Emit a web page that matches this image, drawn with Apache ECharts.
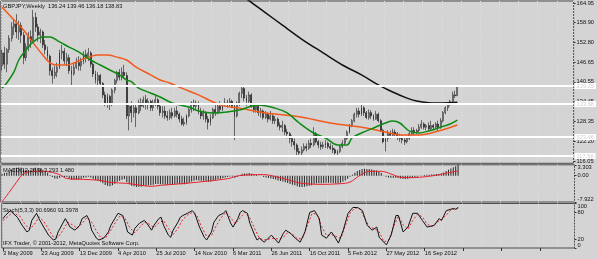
<!DOCTYPE html>
<html><head><meta charset="utf-8">
<script src="https://cdn.jsdelivr.net/npm/echarts@6/dist/echarts.min.js"></script>
<style>html,body{margin:0;padding:0;background:#d4d4d4;}#c{width:597px;height:259px;}</style>
</head><body><div id="c"></div>
<script>
// ---- data ----
const xTickLabels = ['3 May 2009','23 Aug 2009','13 Dec 2009','4 Apr 2010','25 Jul 2010','14 Nov 2010','6 Mar 2011','26 Jun 2011','16 Oct 2011','5 Feb 2012','27 May 2012','16 Sep 2012'];
const weekSlots = 239; // weeks shown on the axis incl. empty right margin
const priceTicks = [116.05,122.20,128.35,134.45,140.55,146.65,152.80,158.90,164.95];
const macdTicks = [-7.922, 0, 3.303];
const macdTickLabels = ['-7.922','0.00','3.303'];
const stochTicks = [0,20,80,100];
const levelLines = [139.25,133.68,123.46,117.58];
const lastPrice = 138.83;
// weekly candles [open, close, low, high]
const ohlc = [
[145.5,149.5,144,150.5],[149.5,146,144.5,151.5],[146,150.5,143.5,151],[150.5,154,149.5,155],[154,157.5,153,159],
[157.5,158.5,155,160],[158.5,156,154,161.5],[156,158,153.5,159.5],[158,155,152.5,159],[155,148,146,156],
[148,151.5,147,152.5],[151.5,154.5,150,156],[154.5,153,151,156.5],[153,160.5,152.5,162.8],[160.5,157.5,156,162],
[157.5,155,153,158.5],[155,156,152.5,157],[156,152,151,156.5],[152,150.5,149,153.5],[150.5,148.5,147.5,151.5],
[148.5,144,142.5,149],[144,142.5,140,145],[142.5,143.5,141.5,145.5],[143.5,145,142,146.5],[145,149.5,144.5,150.5],
[149.5,150,147.5,152],[150,147,146,151],[147,148,145.5,149.5],[148,144,143,149],[144,143,139,145.5],
[143,145,142.5,146.5],[145,146.5,144.5,148],[146.5,145.5,144,148.5],[145.5,147,144,148],[147,149,146,150],
[149,148,146.5,150.5],[148,149.5,147,151],[149.5,146,145,150],[146,143,142,146.5],[143,141,140,144],
[141,142.5,139.5,143.5],[142.5,140,139,143],[140,136.5,135.5,140.5],[136.5,134,133,137.5],[134,136,132.5,137],
[136,133.5,131.8,136.5],[133.5,138,133,138.5],[138,141,137,141.5],[141,143.5,140,144],[143.5,142,141,144.5],
[142,143.5,141,145],[143.5,142.5,141.5,145.8],[142.5,130,129,143.5],[130,133,125.5,134],[133,131,128,134.5],
[131,132.5,129.5,134],[132.5,131,126.5,133.5],[131,134,130.5,135],[134,133,131.5,135.5],[133,135,132.5,136],
[135,133.5,132,136.5],[133.5,134.5,132,135.5],[134.5,132.5,131.5,135],[132.5,134,131.5,135],[134,135,133,136.5],
[135,133,132,135.5],[133,131,130,134],[131,131.5,129.5,133],[131.5,130,129,133],[130,129.5,128.5,131.5],
[129.5,131,128.8,132],[131,130,129,132.5],[130,131.5,129.5,132.5],[131.5,130.5,129.5,133],[130.5,129,128,131],
[129,127.5,127,130],[127.5,128,126.8,129.5],[128,130,127.3,130.5],[130,132,129.5,132.5],[132,134,131,134.5],
[134,133,131.5,135],[133,134,132,134.8],[134,131.5,130.5,134.5],[131.5,130,129,132.5],[130,131,128.8,132],
[131,129,128,131.5],[129,128,125.8,130],[128,129.5,127,130.5],[129.5,132,129,132.5],[132,131,130,133.5],
[131,133,130.5,134],[133,132,131,134.5],[132,133.5,131.5,134],[133.5,134,133,135.5],[134,133.5,132.5,135],
[133.5,134.5,133,135.5],[134.5,133,132.5,135],[133,130,122.5,133.5],[130,134,129.5,134.5],[134,137,133,137.5],
[137,138.5,135.5,139.6],[138.5,135.5,134.5,139],[135.5,134.5,133,136.5],[134.5,136.5,133.5,137.5],[136.5,133,132.5,137],
[133,132,131,134],[132,133,131,134],[133,131,130,133.5],[131,131.5,129.5,132.5],[131.5,129.5,128.8,132],
[129.5,130.5,129,131.5],[130.5,129,128,131],[129,130,128.5,131.5],[130,128.5,127.5,130.5],[128.5,129,127.5,130],
[129,127,126.5,129.5],[127,126.5,125.5,128],[126.5,127,125,128.5],[127,125,124,127.5],[125,124.5,123,126],
[124.5,123,121.5,125],[123,122,120.5,124],[122,121,119.5,123],[121,119,117.3,121.5],[119,118.5,117.5,120],
[118.5,119.5,117.8,120.5],[119.5,120.5,119,121.5],[120.5,120,119,121.5],[120,121.5,119.5,122.5],[121.5,121,120,123],
[121,124.5,120.5,126.5],[124.5,122,121.5,125],[122,121,120,122.5],[121,120.5,119.5,122],[120.5,121,119.8,122],
[121,121.5,120,122.5],[121.5,120.5,119.8,122],[120.5,120,119.5,121.5],[120,119.5,118.5,121],[119.5,118.5,118,120],
[118.5,119,117.3,119.5],[119,120.5,118.5,121],[120.5,121.5,120,122.5],[121.5,123,121,123.5],[123,125,122.5,125.5],
[125,127,124.5,127.5],[127,128.5,126.5,129],[128.5,130.5,128,131],[130.5,131.5,129.5,132.5],[131.5,130.5,129.5,132.5],
[130.5,132.5,130,133.4],[132.5,131,130,133],[131,129.5,129,131.5],[129.5,131,128.8,132],[131,130,129,131.8],
[130,129,128.5,130.5],[129,130.5,128.8,131.5],[130.5,128.5,128,131],[128.5,125.5,125,129],[125.5,122,121.5,126],
[122,123,119,123.5],[123,124.5,122,125.5],[124.5,124,123,125.5],[124,125,123.5,126],[125,124.5,123.5,125.8],
[124.5,123.5,122.5,125],[123.5,123,122,124.5],[123,122.5,121.5,124],[122.5,122,121,123.5],[122,123,121.5,123.5],
[123,124.5,122.5,125],[124.5,125.5,124,126.5],[125.5,125,124,126.5],[125,125.5,124.5,126],[125.5,126.5,125,127.5],
[126.5,127.5,126,128.7],[127.5,126.5,125.8,128],[126.5,127,125.5,127.5],[127,126,125.5,128],[126,127,125.5,128.5],
[127,126.5,125.5,127.5],[126.5,127.5,126,128],[127.5,126.5,125,128.5],[126.5,128.5,126,129.3],[128.5,131,128,131.5],
[131,132.5,130.5,133],[132.5,133.5,131.5,134],[133.5,134.5,133,135],[134.5,136.5,134,137.5],[136.5,136.24,135.5,137.8],
[136.24,138.83,136.18,139.46]
];
// moving averages: [week index, value]
const maGreen = [[0,138.6],[2,140.2],[5,143.6],[7,147.3],[10,150.4],[13,152.9],[17,154.4],[20,154.4],[24,152.9],[28,151.3],[32,149.8],[37,147.3],[41,145.75],[45,144.2],[49,142.7],[52,141.1],[54,140.6],[57,138.6],[62,137.1],[66,135.85],[71,134.0],[78,132.75],[82,131.5],[88,130.9],[94,131.2],[99,131.8],[107,133.4],[114,132.4],[119,130.9],[124,127.8],[130,124.7],[135,123.15],[140,121.0],[144,121.0],[146,123.15],[150,124.7],[156,126.55],[160,127.8],[163,128.4],[166,127.8],[170,125.3],[174,124.7],[178,125.3],[182,126.25],[187,127.5],[190,128.7]];
const maOrange = [[0,163.7],[5,159.7],[9,156.6],[13,152.6],[17,148.85],[20,146.4],[23,145.75],[27,145.75],[31,146.7],[35,147.9],[40,148.85],[44,148.85],[48,148.2],[52,147.3],[56,145.1],[62,142.7],[66,141.1],[70,140.2],[75,138.6],[82,136.5],[91,133.4],[99,132.4],[110,130.9],[124,129.7],[137,127.8],[152,126.25],[160,125.0],[166,124.1],[174,124.1],[182,125.3],[190,127.2]];
const maBlack = [[100,167.2],[103,165.7],[110,161.9],[117,158.1],[125,153.8],[134,149.5],[142,145.75],[150,142.7],[157,139.6],[163,137.4],[169,135.5],[173,134.6],[178,134.1],[184,134.0],[190,134.2]];
const macdMain = [0.5,0.8,1.0,1.4,1.9,2.3,2.4,2.5,2.4,1.9,1.7,1.7,1.6,2.2,2.4,2.3,2.2,1.8,1.4,0.9,
0.2,-0.4,-0.8,-0.9,-0.6,-0.3,-0.4,-0.4,-0.8,-1.2,-1.2,-1.1,-1.1,-0.9,-0.6,-0.5,-0.3,-0.5,-0.9,-1.3,
-1.5,-1.8,-2.3,-2.8,-3.0,-3.2,-2.9,-2.4,-1.8,-1.5,-1.2,-1.0,-2.0,-2.6,-3.0,-3.2,-3.4,-3.3,-3.3,-3.1,
-3.0,-2.9,-2.9,-2.7,-2.5,-2.5,-2.6,-2.6,-2.7,-2.7,-2.6,-2.6,-2.5,-2.4,-2.5,-2.6,-2.6,-2.4,-2.1,-1.7,
-1.5,-1.3,-1.4,-1.5,-1.5,-1.6,-1.8,-1.7,-1.4,-1.3,-1.0,-0.9,-0.7,-0.5,-0.4,-0.2,-0.2,-0.6,-0.4,0.1,
0.6,0.7,0.7,0.8,0.6,0.4,0.3,0.1,-0.1,-0.4,-0.5,-0.7,-0.8,-1.0,-1.1,-1.4,-1.6,-1.7,-2.0,-2.2,
-2.5,-2.7,-2.9,-3.2,-3.4,-3.4,-3.3,-3.2,-3.0,-2.9,-2.4,-2.3,-2.3,-2.3,-2.2,-2.1,-2.1,-2.1,-2.2,-2.3,
-2.3,-2.1,-1.8,-1.4,-0.9,-0.3,0.3,0.9,1.4,1.7,2.0,2.1,2.0,2.0,1.9,1.7,1.6,1.3,0.8,0.1,
-0.3,-0.5,-0.6,-0.6,-0.6,-0.7,-0.8,-0.9,-1.0,-0.9,-0.7,-0.5,-0.4,-0.3,-0.1,0.1,0.2,0.3,0.3,0.4,
0.4,0.5,0.5,0.7,1.0,1.4,1.8,2.2,2.6,2.9,3.293];
const macdSignal = [[0,-7.9],[3,-5.0],[6,-2.0],[9,0.65],[12,1.25],[16,1.4],[21,1.0],[24,0.35],[27,-0.83],[34,-1.1],[41,-1.4],[45,-2.0],[52,-2.3],[58,-2.9],[62,-3.2],[66,-2.9],[74,-2.45],[82,-1.9],[94,-0.9],[99,0.05],[109,0.35],[114,-0.25],[120,-1.4],[124,-2.2],[132,-2.6],[141,-2.4],[145,-1.9],[149,0.05],[153,1.33],[158,1.33],[162,0.56],[166,-0.45],[170,-0.6],[174,-0.45],[180,0.05],[185,0.75],[190,1.48]];
const stochMain = [[0,66],[1,73],[3,84],[6,69],[8,51],[10,36],[11,40],[12,62],[14,78],[15,66],[17,47],[19,29],[21,18],[22,20],[23,36],[25,56],[26,66],[28,47],[30,40],[32,51],[33,66],[35,73],[36,62],[37,40],[39,22],[40,18],[42,22],[44,36],[45,51],[47,69],[48,78],[50,73],[51,56],[52,36],[54,29],[55,44],[57,56],[59,62],[60,56],[62,40],[63,51],[65,66],[66,69],[67,51],[69,29],[70,24],[71,40],[73,58],[74,69],[75,73],[77,78],[79,84],[80,78],[82,47],[84,24],[85,18],[87,36],[88,58],[90,73],[92,78],[93,84],[95,56],[96,47],[98,66],[99,80],[100,84],[102,78],[103,56],[105,29],[106,18],[107,22],[109,13],[110,18],[112,29],[115,11],[117,33],[118,40],[120,33],[122,22],[124,13],[126,36],[128,80],[130,84],[132,66],[133,29],[135,22],[137,36],[138,29],[140,11],[142,40],[144,78],[146,91],[148,91],[150,84],[152,51],[154,40],[156,47],[157,24],[160,7],[162,29],[164,73],[165,73],[167,36],[169,47],[171,78],[173,78],[175,62],[177,47],[180,51],[182,66],[183,62],[185,84],[188,89],[189,87],[190,90.696]];
const stochSignal = [[0,62],[2,70],[4,80],[7,72],[9,55],[11,42],[13,52],[15,70],[17,60],[19,42],[21,25],[23,24],[25,40],[27,58],[29,52],[31,44],[33,55],[35,68],[37,58],[39,38],[41,22],[43,24],[45,40],[47,58],[49,73],[51,66],[53,45],[55,34],[57,46],[59,58],[61,54],[63,46],[65,56],[67,62],[69,44],[71,30],[73,44],[75,64],[77,74],[79,80],[81,72],[83,46],[85,26],[87,28],[89,50],[91,68],[93,80],[95,68],[97,54],[99,68],[101,80],[103,68],[105,44],[107,22],[109,18],[111,20],[113,22],[115,20],[117,24],[119,36],[121,30],[123,20],[125,22],[127,50],[129,78],[131,76],[133,48],[135,28],[137,30],[139,26],[141,22],[143,52],[145,80],[147,90],[149,88],[151,66],[153,46],[155,44],[157,36],[159,14],[161,18],[163,48],[165,72],[167,52],[169,42],[171,62],[173,76],[175,70],[177,54],[179,48],[181,58],[183,64],[185,74],[187,86],[189,88],[190,91.398]];

// ---- chart ----
const FONT = "'Liberation Sans',Arial,sans-serif";
const FS = 5.7;
const TXT = '#111';
const cats = [];
for (let i = 0; i < weekSlots; i++) cats.push(String(i));
const gridStyle = {show: true, backgroundColor: '#d4d4d4', borderColor: '#4d4d4d', borderWidth: 1};
const grids = [
  Object.assign({left: 0.8, right: 22.5, top: 1, height: 162.3}, gridStyle),
  Object.assign({left: 0.8, right: 22.5, top: 164.8, height: 37.2}, gridStyle),
  Object.assign({left: 0.8, right: 22.5, top: 203.5, height: 44.5}, gridStyle)
];
const vSplit = {show: true, interval: 7, lineStyle: {color: '#e0e0e0', type: [1, 2], width: 1}};
function xAxis(idx, showLabels) {
  return {
    type: 'category', gridIndex: idx, data: cats, boundaryGap: true,
    axisLine: {show: false},
    axisTick: {show: showLabels, interval: 15, alignWithLabel: true, length: 3, lineStyle: {color: '#333'}},
    axisLabel: {show: showLabels, interval: 15, align: 'left', margin: 2, fontSize: FS, color: TXT, fontFamily: FONT,
      formatter: (v, i) => xTickLabels[Math.round(i / 16)] || ''},
    splitLine: vSplit
  };
}
function yAxis(idx, min, max, ticks, fmt) {
  return {
    type: 'value', gridIndex: idx, position: 'right', min: min, max: max, scale: true,
    axisLine: {show: false},
    axisTick: {show: true, customValues: ticks, length: 2, lineStyle: {color: '#333'}},
    axisLabel: {show: true, customValues: ticks, formatter: fmt, fontSize: FS, color: TXT, fontFamily: FONT, margin: 3,
      showMinLabel: true, showMaxLabel: true, hideOverlap: false,
      verticalAlignMinLabel: idx === 0 ? 'middle' : 'bottom', verticalAlignMaxLabel: idx === 0 ? 'middle' : 'top'},
    splitLine: {show: false}
  };
}
const levelMarks = levelLines.map(v => ({
  yAxis: v,
  lineStyle: {color: '#ffffff', width: 2, type: 'solid'},
  label: {show: true, position: 'end', distance: 1, formatter: v.toFixed(2), fontSize: FS, fontFamily: FONT,
    color: '#d0d0d0', backgroundColor: '#ffffff', padding: [0, 2, 0, 2]}
}));
levelMarks.push({
  yAxis: lastPrice,
  lineStyle: {opacity: 0},
  label: {show: true, position: 'end', distance: 1, formatter: lastPrice.toFixed(2), fontSize: FS, fontFamily: FONT,
    color: '#ffffff', backgroundColor: '#000000', padding: [0, 2, 0, 2]}
});
const titleStyle = {fontSize: FS, fontWeight: 'normal', color: TXT, fontFamily: FONT};
const option = {
  animation: false,
  backgroundColor: '#d4d4d4',
  title: [
    {text: 'GBPJPY,Weekly  136.24 139.46 136.18 138.83', left: 3, top: 3, padding: 0, textStyle: titleStyle},
    {text: 'MACD(12,26,9) 3.293 1.480', left: 3, top: 167, padding: 0, textStyle: titleStyle},
    {text: 'Stoch(5,3,3) 90.6960 91.3978', left: 3, top: 207, padding: 0, textStyle: titleStyle},
    {text: 'IFX Trader, \u00a9 2001-2012, MetaQuotes Software Corp.', left: 3, top: 240, padding: 0, textStyle: titleStyle}
  ],
  grid: grids,
  xAxis: [xAxis(0, false), xAxis(1, false), xAxis(2, true)],
  yAxis: [
    yAxis(0, 115.32, 165.57, priceTicks, v => v.toFixed(2)),
    yAxis(1, -7.922, 3.303, macdTicks, v => macdTickLabels[macdTicks.indexOf(v)] !== undefined ? macdTickLabels[macdTicks.indexOf(v)] : v.toFixed(2)),
    yAxis(2, 0, 100, stochTicks, v => String(v))
  ],
  series: [
    {type: 'candlestick', xAxisIndex: 0, yAxisIndex: 0, data: ohlc, barWidth: 1.4,
      itemStyle: {color: '#f4f4f4', color0: '#1a1a1a', borderColor: '#1a1a1a', borderColor0: '#1a1a1a', borderWidth: 0.6},
      markLine: {silent: true, symbol: 'none', data: levelMarks}},
    {type: 'line', xAxisIndex: 0, yAxisIndex: 0, data: maOrange, smooth: 0.35, symbol: 'none', lineStyle: {color: '#f25a1c', width: 1.5}},
    {type: 'line', xAxisIndex: 0, yAxisIndex: 0, data: maGreen, smooth: 0.35, symbol: 'none', lineStyle: {color: '#0d8a12', width: 1.5}},
    {type: 'line', xAxisIndex: 0, yAxisIndex: 0, data: maBlack, smooth: 0.35, symbol: 'none', lineStyle: {color: '#111111', width: 1.5}},
    {type: 'bar', xAxisIndex: 1, yAxisIndex: 1, data: macdMain, barWidth: 1, itemStyle: {color: '#262626'}},
    {type: 'line', xAxisIndex: 1, yAxisIndex: 1, data: macdSignal, smooth: 0.35, symbol: 'none', lineStyle: {color: '#e8212b', width: 1}},
    {type: 'line', xAxisIndex: 2, yAxisIndex: 2, data: stochSignal, symbol: 'none', lineStyle: {color: '#e8212b', width: 1, type: [2, 2]}},
    {type: 'line', xAxisIndex: 2, yAxisIndex: 2, data: stochMain, symbol: 'none', lineStyle: {color: '#111111', width: 1}}
  ]
};
const chart = echarts.init(document.getElementById('c'), null, {renderer: 'canvas'});
chart.setOption(option);
</script></body></html>
